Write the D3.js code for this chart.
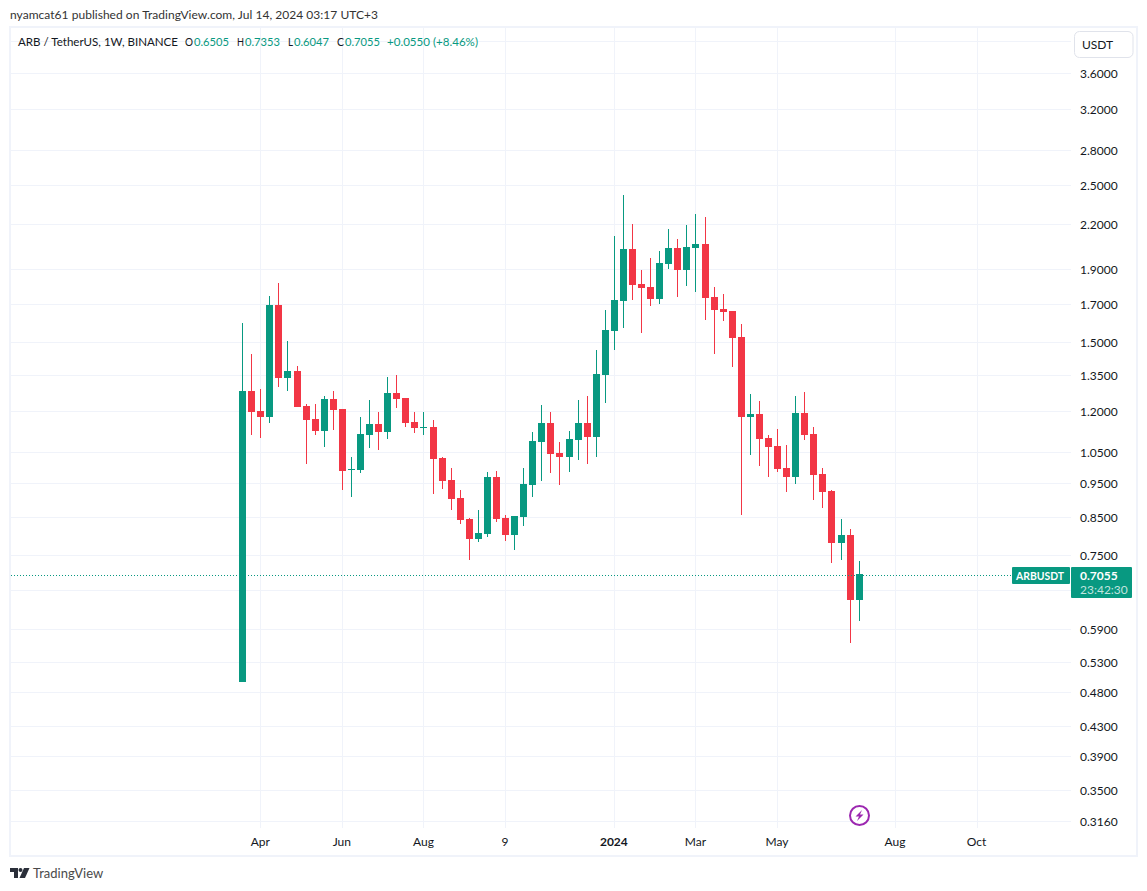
<!doctype html>
<html lang="en">
    <head>
        <meta charset="utf-8">
        <title>ARB / TetherUS, 1W</title>
        <script src="https://cdnjs.cloudflare.com/ajax/libs/d3/7.8.5/d3.min.js"></script>
        <style>
            html, body { margin: 0; padding: 0; background: #fff; }
            svg { display: block; }
            text { font-family: Lato, "Open Sans", sans-serif; }
            .domain { display: none; }
        </style>
    </head>

    <body>
        <div id="chart"></div>
        <script>
            // weekly candles
            var opens = [0.497, 1.280, 1.199, 1.176, 1.693, 1.335, 1.366, 1.219, 1.169, 1.124, 1.247, 1.207, 0.990, 0.990, 1.110, 1.150, 1.120, 1.272, 1.251, 1.157, 1.135, 1.139, 1.030, 0.958, 0.904, 0.844, 0.791, 0.804, 0.968, 0.847, 0.802, 0.850, 0.943, 1.085, 1.154, 1.046, 1.033, 1.092, 1.154, 1.102, 1.348, 1.556, 1.715, 2.031, 1.813, 1.795, 1.726, 1.935, 2.038, 1.897, 2.038, 2.064, 1.738, 1.671, 1.660, 1.526, 1.176, 1.188, 1.099, 1.071, 0.997, 0.968, 1.192, 1.113, 0.978, 0.925, 0.781, 0.802, 0.648];
            var highs = [1.597, 1.444, 1.288, 1.743, 1.819, 1.506, 1.388, 1.227, 1.227, 1.260, 1.280, 1.207, 1.033, 1.176, 1.243, 1.196, 1.340, 1.348, 1.251, 1.196, 1.196, 1.165, 1.033, 0.997, 0.928, 0.847, 0.869, 0.984, 0.987, 0.856, 0.853, 0.997, 1.120, 1.223, 1.196, 1.085, 1.124, 1.243, 1.260, 1.463, 1.666, 2.119, 2.421, 2.203, 1.897, 1.973, 2.018, 2.167, 2.098, 2.196, 2.276, 2.254, 1.795, 1.755, 1.660, 1.592, 1.268, 1.239, 1.110, 1.131, 1.074, 1.260, 1.276, 1.139, 0.997, 0.928, 0.844, 0.817, 0.7353];
            var lows = [0.497, 1.110, 1.099, 1.154, 1.296, 1.280, 1.215, 1.010, 1.110, 1.067, 1.128, 0.928, 0.907, 0.981, 1.064, 1.057, 1.095, 1.211, 1.139, 1.117, 1.110, 0.916, 0.931, 0.869, 0.831, 0.739, 0.784, 0.796, 0.836, 0.786, 0.763, 0.826, 0.907, 0.955, 0.981, 0.943, 0.984, 1.023, 1.010, 1.033, 1.231, 1.463, 1.571, 1.721, 1.546, 1.688, 1.699, 1.903, 1.738, 1.801, 1.766, 1.612, 1.444, 1.607, 1.384, 0.856, 1.040, 1.003, 0.968, 0.984, 0.922, 0.946, 1.092, 0.898, 0.875, 0.732, 0.739, 0.564, 0.6047];
            var closes = [1.280, 1.196, 1.176, 1.693, 1.335, 1.366, 1.215, 1.165, 1.124, 1.247, 1.203, 0.987, 0.993, 1.113, 1.150, 1.120, 1.272, 1.247, 1.154, 1.135, 1.139, 1.026, 0.955, 0.901, 0.842, 0.791, 0.807, 0.968, 0.844, 0.802, 0.853, 0.946, 1.088, 1.154, 1.043, 1.033, 1.095, 1.154, 1.102, 1.353, 1.561, 1.721, 2.031, 1.807, 1.789, 1.726, 1.941, 2.038, 1.897, 2.044, 2.064, 1.732, 1.666, 1.655, 1.521, 1.176, 1.188, 1.095, 1.067, 0.993, 0.968, 1.192, 1.110, 0.974, 0.922, 0.781, 0.802, 0.648, 0.7055];

            var gridPrices = [4.0, 3.6, 3.2, 2.8, 2.5, 2.2, 1.9, 1.7, 1.5, 1.35, 1.2, 1.05, 0.95, 0.85, 0.75, 0.67, 0.59, 0.53, 0.48, 0.43, 0.39, 0.35, 0.316];
            var hiddenPrices = [4.0, 0.67]; // covered by the USDT button and the last price box
            var timeTickBars = [2, 11, 20, 29, 41, 50, 59, 72, 81];
            var timeTickLabels = ["Apr", "Jun", "Aug", "9", "2024", "Mar", "May", "Aug", "Oct"];
            var lastPrice = 0.7055;
            var legendParts = [["ARB / TetherUS, 1W, BINANCE", "dark"], ["O", "dark"], ["0.6505", "up"], ["H", "dark"], ["0.7353", "up"], ["L", "dark"], ["0.6047", "up"], ["C", "dark"], ["0.7055", "up"], ["+0.0550 (+8.46%)", "up"]];

            var UP = "#089981", DOWN = "#f23645", GRID = "#f0f3fa", TEXT = "#131722";
            var width = 1147, height = 891;

            var svg = d3.select("#chart").append("svg")
                    .attr("width", width)
                    .attr("height", height);

            var x = d3.scaleLinear().domain([0, 68]).range([242.6, 859.16]);
            var y = d3.scaleLog().domain([3.6, 0.316]).range([73, 821]).interpolate(d3.interpolateRound);

            function px(i) {
                return Math.floor(x(i));
            }

            // frame
            svg.append("rect")
                    .attr("x", 10).attr("y", 27)
                    .attr("width", 1127).attr("height", 829)
                    .attr("fill", "none")
                    .attr("stroke", GRID)
                    .attr("stroke-width", 2);

            // grid
            svg.append("g")
                    .attr("class", "grid-y")
                    .attr("transform", "translate(1071,0)")
                    .call(d3.axisLeft(y).tickValues(gridPrices).tickSize(1060).tickFormat(""));
            svg.selectAll(".grid-y line").attr("stroke", GRID);

            svg.append("g")
                    .attr("class", "grid-x")
                    .selectAll("line")
                    .data(timeTickBars)
                    .enter().append("line")
                    .attr("x1", function (d) { return px(d) + 0.5; })
                    .attr("x2", function (d) { return px(d) + 0.5; })
                    .attr("y1", 28)
                    .attr("y2", 828)
                    .attr("stroke", GRID);

            // candles
            var bars = d3.range(opens.length);
            var candle = svg.append("g").selectAll("g")
                    .data(bars)
                    .enter().append("g")
                    .attr("fill", function (i) { return closes[i] >= opens[i] ? UP : DOWN; });

            candle.append("rect")
                    .attr("x", function (i) { return px(i); })
                    .attr("width", 1)
                    .attr("y", function (i) { return y(highs[i]); })
                    .attr("height", function (i) { return y(lows[i]) - y(highs[i]); });

            candle.append("rect")
                    .attr("x", function (i) { return px(i) - 3; })
                    .attr("width", 7)
                    .attr("y", function (i) { return y(Math.max(opens[i], closes[i])); })
                    .attr("height", function (i) { return Math.max(1, y(Math.min(opens[i], closes[i])) - y(Math.max(opens[i], closes[i]))); });

            // last price line
            svg.append("line")
                    .attr("x1", 11).attr("x2", 1012)
                    .attr("y1", y(lastPrice) + 1.5).attr("y2", y(lastPrice) + 1.5)
                    .attr("stroke", UP)
                    .attr("stroke-dasharray", "1 2");

            // price axis
            var priceAxis = d3.axisRight(y)
                    .tickValues(gridPrices)
                    .tickSize(0)
                    .tickPadding(9)
                    .tickFormat(function (d) { return hiddenPrices.indexOf(d) >= 0 ? "" : d.toFixed(4); });
            svg.append("g")
                    .attr("class", "price-axis")
                    .attr("transform", "translate(1071,1)")
                    .call(priceAxis);
            svg.selectAll(".price-axis text")
                    .attr("fill", TEXT)
                    .style("font-family", "Lato")
                    .style("font-size", "12px");

            // time axis
            var timeAxis = d3.axisBottom(x)
                    .tickValues(timeTickBars)
                    .tickSize(0)
                    .tickPadding(0)
                    .tickFormat(function (d, i) { return timeTickLabels[i]; });
            svg.append("g")
                    .attr("class", "time-axis")
                    .attr("transform", "translate(-1,837)")
                    .call(timeAxis);
            svg.selectAll(".time-axis text")
                    .attr("fill", TEXT)
                    .style("font-family", "Lato")
                    .style("font-size", "12px")
                    .style("font-weight", function (d, i) { return timeTickLabels[i] === "2024" ? 700 : 400; });

            // header
            svg.append("text")
                    .attr("x", 10).attr("y", 19)
                    .attr("fill", "#333")
                    .attr("textLength", 368)
                    .style("font-size", "12px")
                    .text("nyamcat61 published on TradingView.com, Jul 14, 2024 03:17 UTC+3");

            var legendX = [18, 185, 194, 237, 245, 288, 294, 337, 345, 387];
            var legendW = [160, 8, 35, 7, 35, 5, 35, 7, 35, 91];
            svg.append("g").selectAll("text")
                    .data(legendParts)
                    .enter().append("text")
                    .attr("x", function (d, i) { return legendX[i]; })
                    .attr("y", 46)
                    .attr("fill", function (d) { return d[1] === "up" ? UP : TEXT; })
                    .attr("textLength", function (d, i) { return legendW[i]; })
                    .attr("lengthAdjust", "spacingAndGlyphs")
                    .style("font-size", "12px")
                    .text(function (d) { return d[0]; });

            // USDT button
            svg.append("rect")
                    .attr("x", 1074.5).attr("y", 31.5)
                    .attr("width", 58.5).attr("height", 26)
                    .attr("rx", 5)
                    .attr("fill", "#fff")
                    .attr("stroke", "#e0e3eb");
            svg.append("text")
                    .attr("x", 1097.5).attr("y", 49)
                    .attr("text-anchor", "middle")
                    .attr("fill", TEXT)
                    .style("font-size", "12px")
                    .text("USDT");

            // last price labels
            svg.append("rect")
                    .attr("x", 1012).attr("y", 567)
                    .attr("width", 58).attr("height", 17)
                    .attr("rx", 1)
                    .attr("fill", UP);
            svg.append("text")
                    .attr("x", 1016).attr("y", 580)
                    .attr("fill", "#fff")
                    .attr("textLength", 48)
                    .attr("lengthAdjust", "spacingAndGlyphs")
                    .style("font-size", "12px")
                    .style("font-weight", 700)
                    .text("ARBUSDT");
            svg.append("rect")
                    .attr("x", 1071).attr("y", 567)
                    .attr("width", 61).attr("height", 31)
                    .attr("rx", 1)
                    .attr("fill", UP);
            svg.append("text")
                    .attr("x", 1080).attr("y", 580)
                    .attr("fill", "#fff")
                    .style("font-size", "12px")
                    .style("font-weight", 700)
                    .text(lastPrice.toFixed(4));
            svg.append("text")
                    .attr("x", 1080).attr("y", 594)
                    .attr("fill", "#fff")
                    .attr("fill-opacity", 0.75)
                    .style("font-size", "12px")
                    .text("23:42:30");

            // lightning marker
            var marker = svg.append("g").attr("transform", "translate(859.5,815.5)");
            marker.append("circle")
                    .attr("r", 9.5)
                    .attr("fill", "#fff")
                    .attr("stroke", "#9c27b0")
                    .attr("stroke-width", 2);
            marker.append("path")
                    .attr("d", "M2.5,-5.5 L-4,1 L-0.5,1 L-2.5,5.5 L4,-1 L0.5,-1 Z")
                    .attr("fill", "#9c27b0");

            // logo
            var logo = svg.append("g").attr("transform", "translate(10,868)").attr("fill", "#2a2e39");
            logo.append("path").attr("d", "M0,0 H8 V10 H4 V4 H0 Z");
            logo.append("circle").attr("cx", 10.5).attr("cy", 2).attr("r", 2);
            logo.append("path").attr("d", "M14,0 H19.5 L15,10 H9.5 Z");
            svg.append("text")
                    .attr("x", 33).attr("y", 878)
                    .attr("fill", "#4a4a4a")
                    .style("font-size", "13px")
                    .text("TradingView");
        </script>
    </body>
</html>
